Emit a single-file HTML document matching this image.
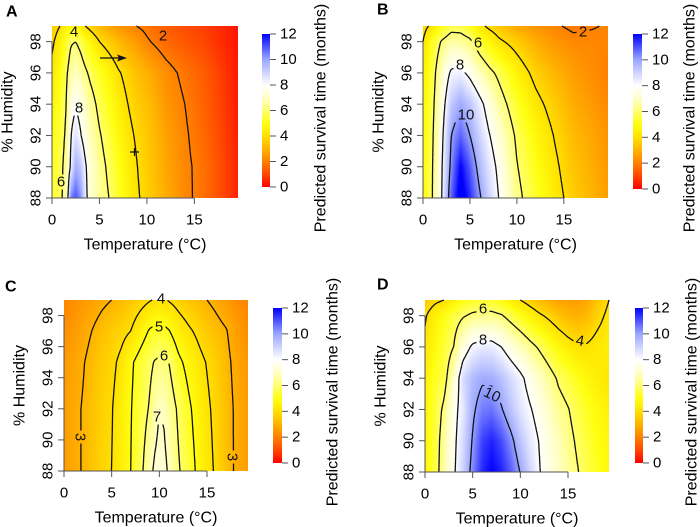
<!DOCTYPE html>
<html><head><meta charset="utf-8">
<style>
body{margin:0;background:#fff;}
#root{position:relative;width:700px;height:527px;overflow:hidden;font-family:"Liberation Sans",Arial,sans-serif;color:#222;}
canvas{position:absolute;}
svg{position:absolute;left:0;top:0;}
</style></head>
<body>
<div id="root">
<svg id="svg" width="700" height="527"></svg>
</div>
<script>
// ---------- Panel A data ----------
const A_temps=[0,1,1.5,2,2.5,3,3.5,4,5,6,7,8,9,10,12,14,16,19.6];
const A_hums=[88,90,92,94,96,98,99];
const A_h88=[5.3,5.9,6.6,10.5,11,10.3,8.6,7.1,6.5,6.0,5.3,4.6,4.1,3.7,2.9,2.2,1.7,0.5];
const A_h90=[5.1,5.8,6.5,8.3,9.8,9.3,8.2,7.3,6.4,5.8,5.1,4.5,4.0,3.6,2.8,2.15,1.75,0.5];
const A_h92=[4.9,5.6,6.2,8.0,8.6,8.1,7.4,6.9,6.1,5.5,4.8,4.25,3.85,3.5,2.7,2.1,1.6,0.45];
const A_h94=[4.6,5.4,6.0,7.5,7.9,7.6,7.0,6.5,5.7,5.1,4.5,4.0,3.6,3.3,2.5,2.0,1.5,0.4];
const A_h96=[4.3,5.1,5.8,6.6,6.9,6.6,6.2,5.8,5.2,4.7,4.1,3.7,3.3,3.0,2.3,1.8,1.4,0.35];
const A_h98=[3.8,4.7,5.3,5.9,6.0,5.7,5.2,4.8,4.0,3.6,3.2,2.8,2.5,2.1,1.6,1.3,1.0,0.3];
const A_h99=[3.5,4.1,4.5,4.8,4.7,4.4,4.0,3.7,3.2,2.8,2.45,2.2,1.98,1.8,1.4,1.1,0.9,0.3];
const A_levels=[2,4,6,8];
// ---------- Panel B data ----------
const B_temps=[0,1,2,3,4,5,6,7,8,10,12,14,16,19.7];
const B_hums=[88,90,92,94,96,98,99];
const B_h88=[4.8,6.0,8.0,10.8,12.5,11.5,10.2,9.0,8.05,6.3,5.3,4.4,3.6,2.6];
const B_h90=[4.8,5.95,7.9,10.3,12.0,10.9,9.6,8.6,7.8,6.05,5.1,4.2,3.4,2.5];
const B_h92=[4.7,5.85,7.7,10.0,10.8,10.0,9.0,8.1,7.35,5.8,4.8,3.95,3.2,2.4];
const B_h94=[4.6,5.7,7.4,9.2,9.9,9.3,8.4,7.5,6.6,5.3,4.3,3.6,2.9,2.2];
const B_h96=[4.5,5.5,7.0,8.2,8.3,7.7,6.9,6.3,5.8,4.6,3.7,3.1,2.6,2.0];
const B_h98=[4.0,5.2,6.1,6.6,6.5,6.2,5.4,4.8,4.2,3.6,2.9,2.45,2.2,2.1];
const B_h99=[3.7,4.2,5.0,5.6,5.6,5.2,4.3,3.8,3.5,2.8,2.4,2.1,1.85,2.05];
const B_levels=[2,4,6,8,10];
// ---------- Panel C data ----------
const C_temps=[0,2,4,5,6,7,8,9,9.5,10,10.5,11,12,13,14,15,16,17,18,19.3];
const C_hums=[88,92,95,97,99];
const C_h88=[2.6,3.05,3.75,4.0,4.5,5.0,5.7,6.75,7.15,7.3,7.2,6.9,6.1,5.5,4.85,4.3,3.85,3.35,2.9,2.6];
const C_h92=[2.6,3.05,3.7,3.95,4.45,4.95,5.5,6.1,6.6,7.0,6.9,6.55,5.85,5.2,4.65,4.15,3.75,3.3,2.9,2.6];
const C_h95=[2.5,2.95,3.55,3.8,4.2,4.85,5.35,5.8,6.05,6.15,6.1,6.0,5.2,4.75,4.3,3.95,3.6,3.2,2.8,2.5];
const C_h97=[2.3,2.75,3.3,3.55,3.75,4.0,4.55,5.1,5.2,5.3,5.2,5.05,4.5,4.15,3.85,3.5,3.25,3.05,2.65,2.3];
const C_h99=[2.1,2.5,2.85,3.0,3.2,3.45,3.7,3.95,4.05,4.1,4.05,3.95,3.7,3.45,3.25,3.0,2.8,2.55,2.3,2.1];
const C_levels=[3,4,5,6,7];
// ---------- Panel D data ----------
const D_temps=[0,1,2,3,4,5,6,7,8,9,10,11,12,13,14,15,16,17,18,19.3];
const D_hums=[88,90,92,94,96,98,99];
const D_h88=[4.6,5.5,6.6,7.8,9.0,10.4,11.5,12.0,11.6,10.9,9.95,8.95,8.05,7.5,7.0,6.5,6.05,5.6,5.2,4.8];
const D_h90=[4.6,5.45,6.5,7.7,8.8,10.1,11.2,11.6,11.1,10.3,9.3,8.5,7.95,7.4,6.85,6.3,5.85,5.45,5.05,4.7];
const D_h92=[4.6,5.4,6.2,7.6,8.5,9.8,10.5,10.6,10.1,9.3,8.6,8.1,7.6,7.0,6.4,6.05,5.6,5.2,4.85,4.55];
const D_h94=[4.5,5.2,5.6,7.0,8.8,9.5,9.85,9.8,9.4,8.8,8.25,7.6,7.05,6.45,5.85,5.5,5.1,4.75,4.45,4.2];
const D_h96=[4.2,4.8,5.4,6.0,7.4,8.2,8.45,8.4,8.0,7.4,6.9,6.35,5.85,5.3,4.8,4.4,4.1,4.1,4.3,4.5];
const D_h98=[3.9,4.5,5.0,5.5,5.9,6.2,6.3,6.3,6.1,5.6,5.1,4.6,4.15,3.8,3.4,3.1,3.0,3.2,3.7,4.2];
const D_h99=[3.5,3.8,4.0,4.5,5.0,5.2,5.3,5.2,4.9,4.5,4.0,3.6,3.2,2.9,2.7,2.6,2.6,2.8,3.4,4.0];
const D_levels=[4,6,8,10];
// ---------- shared axis ticks ----------
const xTicks=[0,5,10,15];
const yTicks=[88,90,92,94,96,98];
const cbTicks=[0,2,4,6,8,10,12];

const NS='http://www.w3.org/2000/svg';
const svg=document.getElementById('svg');
const root=document.getElementById('root');
const stops=[[0,[255,0,0]],[1,[255,70,0]],[2,[255,128,0]],[3,[255,178,0]],[4,[255,224,0]],[5,[255,255,16]],[6,[255,255,112]],[7,[255,255,200]],[8,[255,255,255]],[10,[154,166,255]],[12,[0,0,255]]];
function cmap(v){
  if(v<=0)return stops[0][1];
  for(let i=0;i<stops.length-1;i++){
    if(v<=stops[i+1][0]){const t=(v-stops[i][0])/(stops[i+1][0]-stops[i][0]);
      return stops[i][1].map((c,k)=>Math.round(c+(stops[i+1][1][k]-c)*t));}
  }
  return stops[stops.length-1][1];
}
function seg(arr,x){
  if(x<=arr[0])return [0,0];
  for(let i=0;i<arr.length-1;i++){if(x<=arr[i+1])return [i,(x-arr[i])/(arr[i+1]-arr[i])];}
  return [arr.length-2,1];
}
function mk(tag,attrs,parent){const e=document.createElementNS(NS,tag);for(const k in attrs)e.setAttribute(k,attrs[k]);(parent||svg).appendChild(e);return e;}

function panel(p){
  const grid=p.rows;
  const f=(t,h)=>{const [i,a]=seg(p.temps,t);const [j,b]=seg(p.hums,h);
    const v00=grid[j][i],v01=grid[j][i+1],v10=grid[j+1][i],v11=grid[j+1][i+1];
    return (v00*(1-a)+v01*a)*(1-b)+(v10*(1-a)+v11*a)*b;};
  const W=p.R-p.L,H=p.B-p.T,xmax=p.temps[p.temps.length-1];
  const sx=t=>p.L+t/xmax*W, sy=h=>p.B-(h-88)/11*H;
  const g=mk('g',{});
  
  
  // heatmap canvas
  const cv=document.createElement('canvas');
  cv.width=W;cv.height=H;cv.style.left=p.L+'px';cv.style.top=p.T+'px';
  
  
  root.insertBefore(cv,svg);
  const ctx=cv.getContext('2d');const img=ctx.createImageData(W,H);
  for(let y=0;y<H;y++)for(let x=0;x<W;x++){
    const c=cmap(f((x+0.5)/W*xmax,88+(H-y-0.5)/H*11));const o=(y*W+x)*4;
    img.data[o]=c[0];img.data[o+1]=c[1];img.data[o+2]=c[2];img.data[o+3]=255;}
  ctx.putImageData(img,0,0);
  // label gap mask
  const defs=mk('defs',{},g);
  const mask=mk('mask',{id:'mask'+p.id,maskUnits:'userSpaceOnUse',x:0,y:0,width:700,height:527},defs);
  mk('rect',{x:0,y:0,width:700,height:527,fill:'#fff'},mask);
  p.labels.forEach(l=>{
    const w=l[0].length*9+4,h=15;
    mk('rect',{x:l[1]-w/2,y:l[2]-h/2,width:w,height:h,fill:'#000',transform:l[3]?`rotate(${l[3]} ${l[1]} ${l[2]})`:''},mask);
  });
  const cg=mk('g',{mask:`url(#mask${p.id})`},g);
  
  
  // contours (marching squares)
  const nx=160,ny=110,vals=[];
  for(let j=0;j<=ny;j++){vals.push([]);for(let i=0;i<=nx;i++)vals[j].push(f(i/nx*xmax,88+j/ny*11));}
  p.levels.forEach(lv=>{
    let d='';
    for(let j=0;j<ny;j++)for(let i=0;i<nx;i++){
      const c=[[i,j],[i+1,j],[i+1,j+1],[i,j+1]],pts=[];
      for(let e=0;e<4;e++){const a=c[e],b=c[(e+1)%4];const va=vals[a[1]][a[0]]-lv,vb=vals[b[1]][b[0]]-lv;
        if((va<0)!==(vb<0)){const t=va/(va-vb);const gi=a[0]+(b[0]-a[0])*t,gj=a[1]+(b[1]-a[1])*t;
          pts.push([sx(gi/nx*xmax),sy(88+gj/ny*11)]);}}
      for(let k=0;k+1<pts.length;k+=2)d+='M'+pts[k][0].toFixed(1)+' '+pts[k][1].toFixed(1)+'L'+pts[k+1][0].toFixed(1)+' '+pts[k+1][1].toFixed(1);
    }
    const path=mk('path',{d:d,stroke:'#111','stroke-width':1.3,fill:'none'},cg);
    
    
  });
  // contour labels
  p.labels.forEach(l=>{
    const t=mk('text',{x:l[1],y:l[2],'font-size':15,'text-anchor':'middle','dominant-baseline':'central',fill:'#111',transform:l[3]?`rotate(${l[3]} ${l[1]} ${l[2]})`:''},g);
    t.textContent=l[0];
    
    
  });
  // axes
  const ax=mk('path',{d:`M${sx(0)} ${p.B}H${sx(15)}M${p.L} ${sy(88)}V${sy(98)}`,stroke:'#555','stroke-width':1,fill:'none'},g);
  
  
  xTicks.forEach(v=>{
    const tk=mk('line',{x1:sx(v),x2:sx(v),y1:p.B,y2:p.B+6,stroke:'#555'},g);
    
    
    const t=mk('text',{x:sx(v),y:p.B+22,'font-size':15,'text-anchor':'middle','dominant-baseline':'central'},g);
    t.textContent=v;
    
    
  });
  yTicks.forEach(v=>{
    const tk=mk('line',{x1:p.L-6,x2:p.L,y1:sy(v),y2:sy(v),stroke:'#555'},g);
    
    
    const tx=p.L-16;
    const t=mk('text',{x:tx,y:sy(v),'font-size':15,'text-anchor':'middle','dominant-baseline':'central',transform:`rotate(-90 ${tx} ${sy(v)})`},g);
    t.textContent=v;
    
    
  });
  const xt=mk('text',{x:(p.L+p.R)/2,y:p.B+47,'font-size':16,'text-anchor':'middle','dominant-baseline':'central'},g);
  xt.textContent='Temperature (°C)';
  
  
  const yx=p.L-44,yy=(p.T+p.B)/2;
  const yt=mk('text',{x:yx,y:yy,'font-size':16,'text-anchor':'middle','dominant-baseline':'central',transform:`rotate(-90 ${yx} ${yy})`},g);
  yt.textContent='% Humidity';
  
  
  const lt=mk('text',{x:p.letter[1],y:p.letter[2],'font-size':16,'font-weight':'bold','dominant-baseline':'central'},g);
  lt.textContent=p.letter[0];
  
  
  // colorbar
  const cb=p.cb;
  const gr=mk('linearGradient',{id:'grad'+p.id,x1:0,y1:1,x2:0,y2:0},defs);
  for(let v=0;v<=12;v+=0.5){const c=cmap(v);mk('stop',{offset:v/12,'stop-color':`rgb(${c})`},gr);}
  const r=mk('rect',{x:cb[0],y:cb[2],width:cb[1]-cb[0],height:cb[3]-cb[2],fill:`url(#grad${p.id})`},g);
  
  
  cbTicks.forEach(v=>{const y=cb[3]-v/12*(cb[3]-cb[2]);
    const tk=mk('line',{x1:cb[1],x2:cb[1]+6,y1:y,y2:y,stroke:'#555'},g);
    
    
    const t=mk('text',{x:cb[1]+10,y:y,'font-size':15,'dominant-baseline':'central'},g);
    t.textContent=v;
    
    });
  const cx=cb[4],cy=p.T+92;
  const ct=mk('text',{x:cx,y:cy,'font-size':16,'text-anchor':'middle','dominant-baseline':'central',transform:`rotate(-90 ${cx} ${cy})`},g);
  ct.textContent='Predicted survival time (months)';
  
  
}
panel({id:'a',temps:A_temps,hums:A_hums,rows:[A_h88,A_h90,A_h92,A_h94,A_h96,A_h98,A_h99],levels:A_levels,
  L:52,R:238,T:26,B:198,cb:[262,270,34,187,321],letter:['A',6,12],
  labels:[['2',163,36],['4',74,32],['8',79,108],['6',61,182]]});
panel({id:'b',temps:B_temps,hums:B_hums,rows:[B_h88,B_h90,B_h92,B_h94,B_h96,B_h98,B_h99],levels:B_levels,
  L:423,R:608,T:26,B:198,cb:[633,642,34,189,690],letter:['B',377,10],
  labels:[['2',583,32],['6',478,43],['8',460,65],['10',466,115]]});
panel({id:'c',temps:C_temps,hums:C_hums,rows:[C_h88,C_h92,C_h95,C_h97,C_h99],levels:C_levels,
  L:64,R:248,T:300,B:471,cb:[273,282,308,463,333],letter:['C',5,287],
  labels:[['4',161,299],['5',159,327],['6',164,356],['7',157,417],['3',80,437,90],['3',232,457,90]]});
panel({id:'d',temps:D_temps,hums:D_hums,rows:[D_h88,D_h90,D_h92,D_h94,D_h96,D_h98,D_h99],levels:D_levels,
  L:425,R:609,T:300,B:472,cb:[635,643,308,463,692],letter:['D',377,285],
  labels:[['6',483,309],['8',483,340],['10',492,395,25],['4',580,341,10]]});
// annotation in panel A
const ar=mk('path',{d:'M100 58H120',stroke:'#111','stroke-width':1.3,fill:'none'});


const ah=mk('path',{d:'M127 58L117 54.5L119 58L117 61.5Z',fill:'#111'});


const pm=mk('path',{d:'M130 152H139M134.5 148V156',stroke:'#111','stroke-width':1.2,fill:'none'});


</script>
</body></html>
